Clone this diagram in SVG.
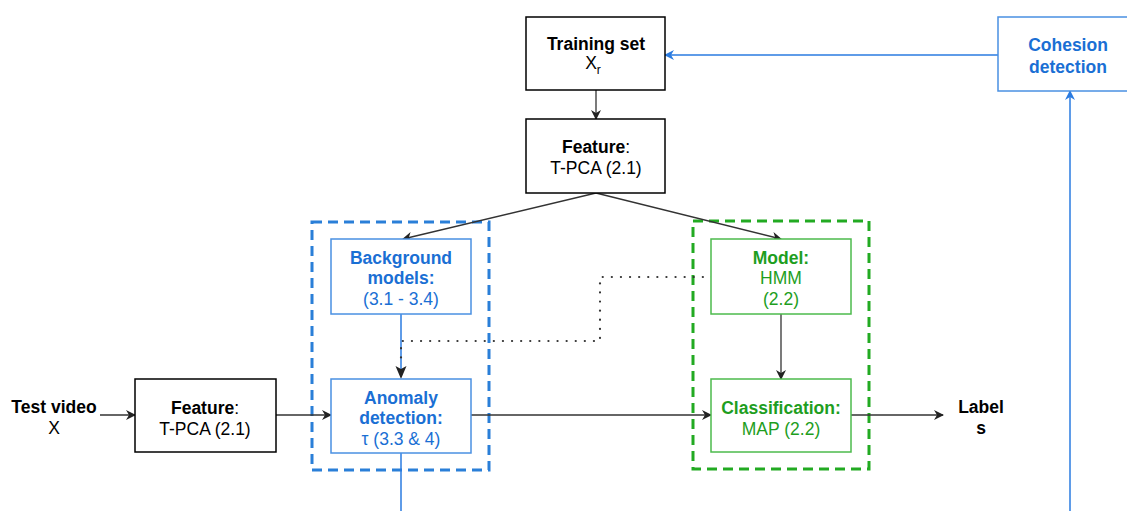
<svg xmlns="http://www.w3.org/2000/svg" width="1127" height="511" viewBox="0 0 1127 511">
<defs>
<style>
text{font-family:"Liberation Sans",Arial,sans-serif;font-size:17.5px;text-anchor:middle}
.b{font-weight:bold}
.k{fill:#000}
.bt{fill:#1a6fd4}
.gt{fill:#1e9e1e}
.kb{fill:#fff;stroke:#000;stroke-width:1.5}
.bb{fill:#fff;stroke:#4a90e2;stroke-width:1.5}
.gb{fill:#fff;stroke:#4cbb4c;stroke-width:1.5}
.c{fill:none;stroke:#333;stroke-width:1.3}
</style>
<marker id="ak" viewBox="0 0 10 10" refX="9" refY="5" markerWidth="10" markerHeight="10" markerUnits="userSpaceOnUse" orient="auto"><path d="M0,0 L10,5 L0,10 L3,5 Z" fill="#222"/></marker>
<marker id="ab" viewBox="0 0 10 10" refX="9" refY="5" markerWidth="10" markerHeight="10" markerUnits="userSpaceOnUse" orient="auto"><path d="M0,0 L10,5 L0,10 L3,5 Z" fill="#2a7be0"/></marker>
</defs>
<rect width="1127" height="511" fill="#fff"/>
<g id="group-blue"><rect x="312" y="222" width="177" height="248" fill="none" stroke="#2a7fd8" stroke-width="3" stroke-dasharray="10 6"/></g>
<g id="group-green"><rect x="693" y="221" width="176" height="248" fill="none" stroke="#22aa22" stroke-width="3" stroke-dasharray="10 6"/></g>
<g id="connectors">
<line class="c" x1="596" y1="90" x2="596" y2="119" marker-end="url(#ak)"/>
<line class="c" x1="596" y1="193" x2="403" y2="239" marker-end="url(#ak)"/>
<line class="c" x1="596" y1="193" x2="781" y2="239" marker-end="url(#ak)"/>
<line class="c" x1="781" y1="314" x2="781" y2="379" marker-end="url(#ak)"/>
<line x1="401" y1="314" x2="401" y2="372" stroke="#2a7be0" stroke-width="1.5"/>
<polyline fill="none" stroke="#333" stroke-width="2.2" stroke-dasharray="0.1 9" stroke-linecap="round" points="712,277 600,277 600,341 401,341 401,366"/>
<path d="M395.5,366 L401,379 L406.5,366 L401,369 Z" fill="#222"/>
<line class="c" x1="100" y1="415" x2="135" y2="415" marker-end="url(#ak)"/>
<line class="c" x1="276" y1="415" x2="331" y2="415" marker-end="url(#ak)"/>
<line class="c" x1="471" y1="415" x2="711" y2="415" marker-end="url(#ak)"/>
<line class="c" x1="851" y1="415" x2="943" y2="415" marker-end="url(#ak)"/>
<line x1="401" y1="453" x2="401" y2="511" stroke="#2a7be0" stroke-width="1.5"/>
<line x1="1070" y1="511" x2="1070" y2="91" stroke="#2a7be0" stroke-width="1.5" marker-end="url(#ab)"/>
<line x1="998" y1="55" x2="665" y2="55" stroke="#2a7be0" stroke-width="1.5" marker-end="url(#ab)"/>
</g>
<g id="training-set"><rect class="kb" x="526" y="17" width="139" height="73"/><text class="b k" x="596" y="50">Training set</text><text class="k" x="593" y="69">X<tspan font-size="12" dy="5">r</tspan></text></g>
<g id="feature-top"><rect class="kb" x="526" y="119" width="139" height="74"/><text class="b k" x="596" y="153">Feature<tspan font-weight="normal">:</tspan></text><text class="k" x="596" y="174">T-PCA (2.1)</text></g>
<g id="cohesion"><rect class="bb" x="998" y="17" width="140" height="74"/><text class="b bt" x="1068" y="51">Cohesion</text><text class="b bt" x="1068" y="73">detection</text></g>
<g id="background-models"><rect class="bb" x="331" y="239" width="140" height="75"/><text class="b bt" x="401" y="264">Background</text><text class="b bt" x="401" y="284">models:</text><text class="bt" x="401" y="305">(3.1 - 3.4)</text></g>
<g id="anomaly-detection"><rect class="bb" x="331" y="379" width="140" height="74"/><text class="b bt" x="401" y="404">Anomaly</text><text class="b bt" x="401" y="424">detection:</text><text class="bt" x="401" y="445">τ (3.3 &amp; 4)</text></g>
<g id="model"><rect class="gb" x="711" y="239" width="140" height="75"/><text class="b gt" x="781" y="264">Model:</text><text class="gt" x="781" y="284">HMM</text><text class="gt" x="781" y="305">(2.2)</text></g>
<g id="classification"><rect class="gb" x="711" y="379" width="140" height="73"/><text class="b gt" x="781" y="414">Classification:</text><text class="gt" x="781" y="435">MAP (2.2)</text></g>
<g id="feature-left"><rect class="kb" x="135" y="379" width="141" height="73"/><text class="b k" x="205" y="414">Feature<tspan font-weight="normal">:</tspan></text><text class="k" x="205" y="435">T-PCA (2.1)</text></g>
<g id="test-video"><text class="b k" x="54" y="413">Test video</text><text class="k" x="54" y="434">X</text></g>
<g id="labels"><text class="b k" x="981" y="413">Label</text><text class="b k" x="981" y="434">s</text></g>
</svg>
